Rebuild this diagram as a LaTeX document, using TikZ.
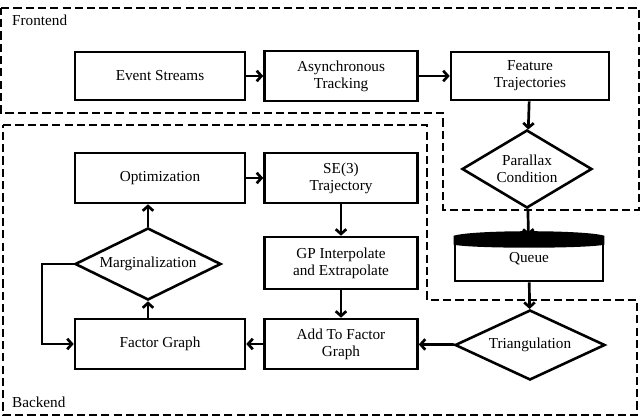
\documentclass[tikz,border=0pt]{standalone}
\usepackage{fontspec}
\setmainfont{Liberation Serif}
\usetikzlibrary{arrows.meta,shapes.geometric}

\tikzset{%
  every box/.style={
    rectangle,
    draw,
    line width=2.2pt,
    align=center,
    font=\fontsize{13}{14.5}\selectfont
  },
  box wide/.style={minimum width=170*0.03cm, minimum height=48*0.03cm},
  box mid/.style={minimum width=153*0.03cm, minimum height=50*0.03cm},
  decision/.style={
    diamond,
    draw,
    line width=2.2pt,
    aspect=2,
    inner sep=0pt,
    align=center,
    font=\fontsize{13}{14.5}\selectfont
  },
  region/.style={line width=1pt, dash pattern=on 7pt off 3.5pt},
  flow/.style={line width=2.3pt, -{Straight Barb[length=4pt,width=9pt]}}
}

\begin{document}
\begin{tikzpicture}[x=0.03cm, y=-0.03cm]
\useasboundingbox (0,0) rectangle (640,420);

% regions
\draw [region] (1,8) -- (639,8) -- (639,210) -- (443,210) -- (443,113) -- (1,113) -- cycle;
\draw [region] (3,125) -- (427,125) -- (427,300) -- (637,300) -- (637,415) -- (3,415) -- cycle;
\node [anchor=west, font=\fontsize{13}{14.5}\selectfont] (front) at (8,20) {Frontend};
\node [anchor=west, font=\fontsize{13}{14.5}\selectfont] (back) at (8,402) {Backend};

% frontend
\node [every box, box wide] (events) at (160,76) {Event Streams};
\node [every box, box mid] (tracking) at (341,76) {Asynchronous\\Tracking};
\node [every box, minimum width=158*0.03cm, minimum height=48*0.03cm] (features) at (530,76) {Feature\\Trajectories};
\node [decision, minimum width=130*0.03cm, minimum height=78*0.03cm] (parallax) at (527,169) {Parallax\\Condition};
\node [every box, minimum width=148*0.03cm, minimum height=44*0.03cm] (queue) at (529,259) {Queue};
\fill (queue.north west) -- ++(0,9) .. controls +(20,4) and +(-20,4) .. ([yshift=-9*0.03cm]queue.north east)
  -- (queue.north east) .. controls +(-20,-6) and +(20,-6) .. (queue.north west) -- cycle;

% backend
\node [decision, minimum width=150*0.03cm, minimum height=70*0.03cm] (triang) at (530,345) {Triangulation};
\node [every box, box mid] (addfg) at (341,344) {Add To Factor\\Graph};
\node [every box, box wide, minimum height=50*0.03cm] (factor) at (160,344) {Factor Graph};
\node [decision, minimum width=146*0.03cm, minimum height=72*0.03cm] (margin) at (148,264) {Marginalization};
\node [every box, box wide, minimum height=50*0.03cm] (optim) at (160,178) {Optimization};
\node [every box, box mid] (se3) at (341,178) {SE(3)\\Trajectory};
\node [every box, box mid, minimum height=52*0.03cm] (gp) at (341,263) {GP Interpolate\\and Extrapolate};
\coordinate (loop) at (42,264);

\draw [flow] (events) -- (tracking);
\draw [flow] (tracking) -- (features);
\draw [flow] (features) -- (parallax);
\draw [flow] (parallax) -- (queue);
\draw [flow] (queue) -- (triang);
\draw [flow] (triang) -- (addfg);
\draw [flow] (addfg) -- (factor);
\draw [flow] (factor.north -| margin) -- (margin);
\draw [flow] (margin) -- (optim.south -| margin);
\draw [flow] (optim) -- (se3);
\draw [flow] (se3) -- (gp);
\draw [flow] (gp) -- (addfg);
\draw [flow] (margin.west) -- (loop) |- (factor.west);
\end{tikzpicture}
\end{document}
